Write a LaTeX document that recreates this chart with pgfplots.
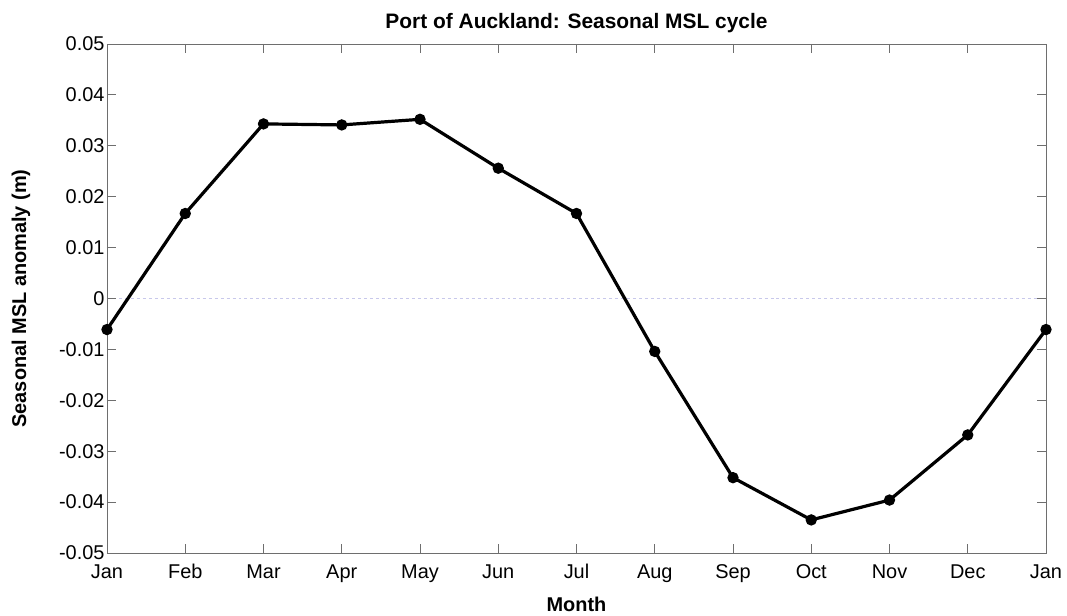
\documentclass[border=0pt]{standalone}
\usepackage{pgfplots}
\pgfplotsset{compat=1.18}
\usepackage{fontspec}
\setmainfont{Liberation Sans}
\definecolor{axgray}{RGB}{110,110,110}
\definecolor{zeroline}{RGB}{200,200,235}
\begin{document}
\begin{tikzpicture}
\begin{axis}[
  scale only axis,
  width=939bp, height=509bp,
  xmin=0, xmax=12, ymin=-0.05, ymax=0.05,
  xtick={0,...,12},
  xticklabels={Jan,Feb,Mar,Apr,May,Jun,Jul,Aug,Sep,Oct,Nov,Dec,Jan},
  ytick={-0.05,-0.04,...,0.05},
  yticklabels={-0.05,-0.04,-0.03,-0.02,-0.01,0,0.01,0.02,0.03,0.04,0.05},
  scaled y ticks=false,
  tick align=inside,
  major tick length=9bp,
  axis line style={axgray, line width=0.9pt},
  every tick/.style={axgray, line width=0.9pt},
  tick label style={font=\fontsize{20}{24}\selectfont, black},
  xticklabel style={yshift=-8bp},
  yticklabel style={xshift=1bp},
  title={\bfseries Port of Auckland: Seasonal MSL cycle},
  title style={font=\fontsize{21}{25}\selectfont, yshift=2bp},
  xlabel={\bfseries Month},
  ylabel={\bfseries Seasonal MSL anomaly (m)},
  label style={font=\fontsize{20}{24}\selectfont},
  xlabel style={yshift=-8bp},
  ylabel style={yshift=22bp},
  axis on top,
  clip=false,
]
\addplot[zeroline, dashed, line width=0.8pt, forget plot] coordinates {(0,0) (12,0)};
\addplot[black, line width=3.2bp, mark=*, mark size=4bp, mark options={solid}] coordinates {
(0,-0.0061) (1,0.0167) (2,0.0343) (3,0.0341) (4,0.0352) (5,0.0256)
(6,0.0167) (7,-0.0104) (8,-0.0352) (9,-0.0435) (10,-0.0396) (11,-0.0268) (12,-0.0061)
};
\end{axis}
\path[use as bounding box] (current axis.south west) ++(-107bp,-60bp) rectangle ++(1067bp,613bp);
\end{tikzpicture}
\end{document}
